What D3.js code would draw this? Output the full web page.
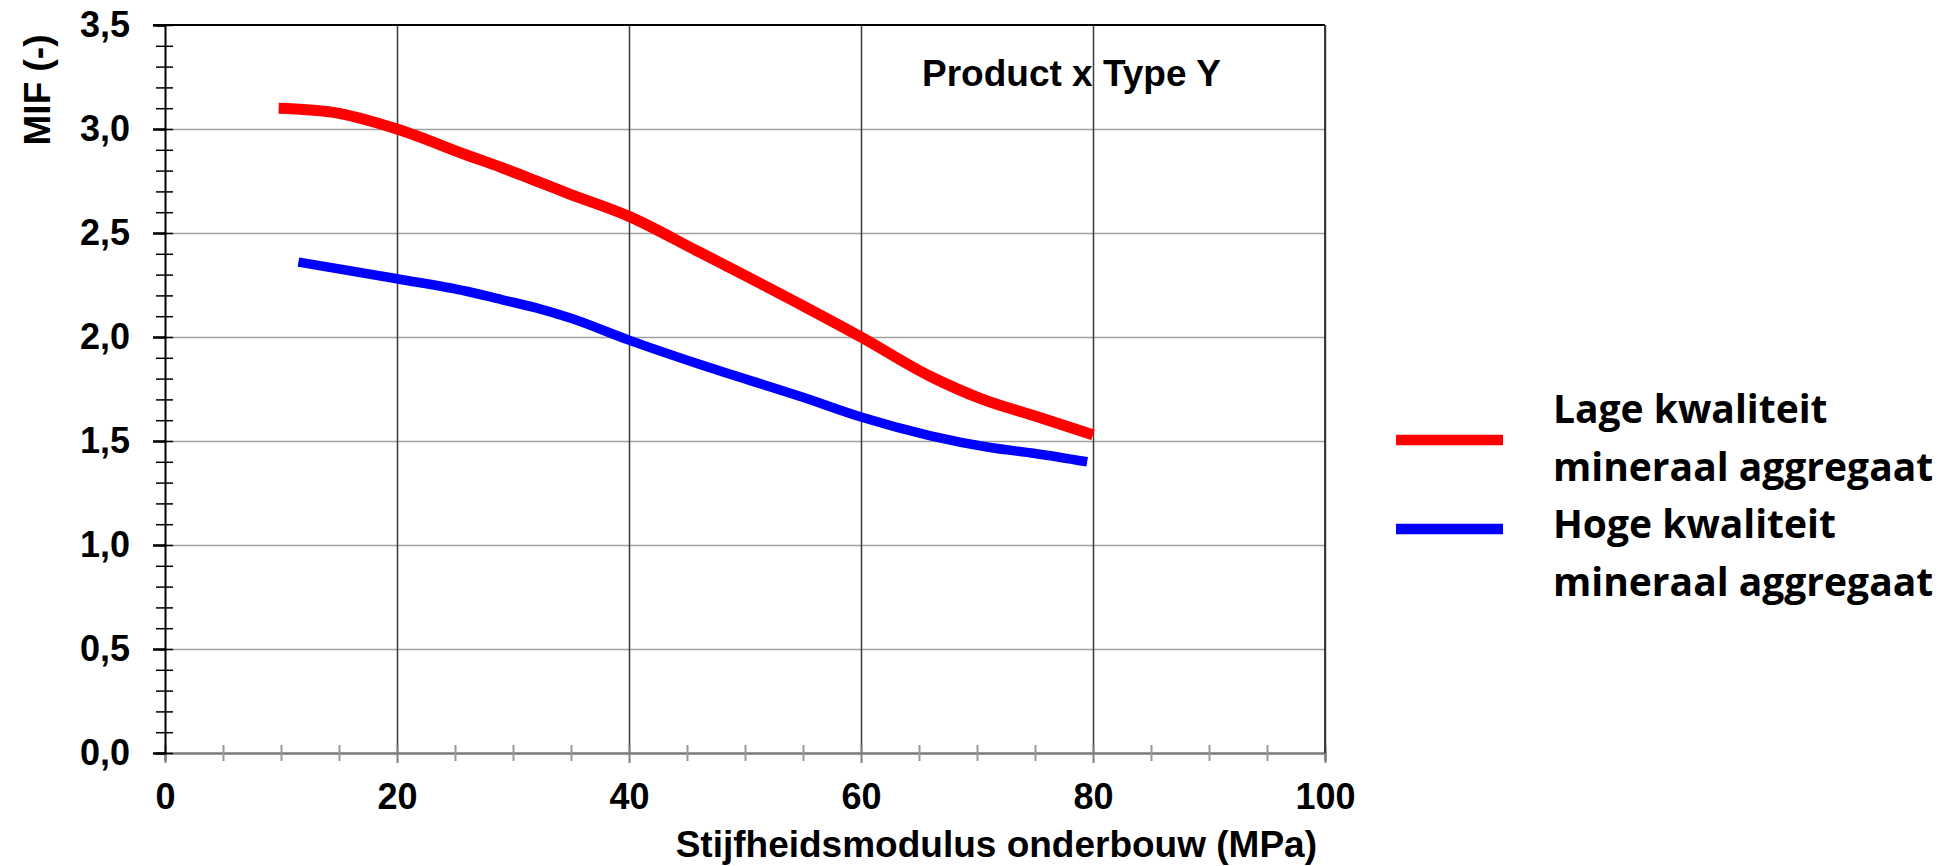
<!DOCTYPE html>
<html>
<head>
<meta charset="utf-8">
<script src="https://cdn.jsdelivr.net/npm/d3@7"></script>
<style>
  body { margin: 0; background: #fff; }
  text { font-family: Arial, "Liberation Sans", sans-serif; font-weight: bold; fill: #000; }
  .legend text { font-family: "Open Sans", Lato, sans-serif; }
</style>
</head>
<body>
<svg id="chart"></svg>
<script>
// values
const lageX = [9.8, 14.5, 20, 26, 29, 32, 35, 40, 46, 55, 60, 66, 70.5, 75, 80];
const lageY = [3.10, 3.08, 3.00, 2.875, 2.815, 2.75, 2.685, 2.58, 2.41, 2.15, 2.00, 1.81, 1.70, 1.62, 1.53];
const hogeX = [11.5, 20, 26, 29, 32, 35, 40, 46, 55, 60, 66, 71, 75, 79.5];
const hogeY = [2.36, 2.28, 2.22, 2.18, 2.14, 2.09, 1.985, 1.87, 1.71, 1.615, 1.525, 1.47, 1.44, 1.40];
const xTicks = [0, 20, 40, 60, 80, 100];
const yTicks = [0, 0.5, 1.0, 1.5, 2.0, 2.5, 3.0, 3.5];
const legendLabels = [
  ['Lage kwaliteit', 'mineraal aggregaat'],
  ['Hoge kwaliteit', 'mineraal aggregaat']
];
const seriesColors = ['#ff0000', '#0000ff'];

const W = 1942, H = 866;
const margin = { left: 165, top: 25 };
const innerW = 1160, innerH = 728;

const svg = d3.select('#chart').attr('width', W).attr('height', H);
const g = svg.append('g').attr('transform', `translate(${margin.left}, ${margin.top})`);

const x = d3.scaleLinear().domain([0, 100]).range([0, innerW]);
const y = d3.scaleLinear().domain([0, 3.5]).range([innerH, 0]);
const fmt = d3.formatLocale({ decimal: ',', thousands: '.', grouping: [3], currency: ['', ''] }).format('.1f');

// horizontal grid
g.append('g')
  .call(d3.axisLeft(y).tickValues(yTicks.slice(1, -1)).tickSize(-innerW).tickFormat(''))
  .call(s => s.select('.domain').remove())
  .call(s => s.selectAll('line').attr('stroke', '#a0a0a0').attr('stroke-width', 1.5));

// vertical grid
g.append('g')
  .attr('transform', `translate(0, ${innerH})`)
  .call(d3.axisBottom(x).tickValues(xTicks.slice(1)).tickSize(innerH).tickFormat(''))
  .call(s => s.select('.domain').remove())
  .call(s => s.selectAll('line').attr('y2', -innerH).attr('stroke', '#3a3a3a').attr('stroke-width', 1.5));

// top border
g.append('line').attr('x1', -12).attr('x2', innerW).attr('y1', 0).attr('y2', 0)
  .attr('stroke', '#000').attr('stroke-width', 2);

// x axis (gray, ticks every 5)
const xAxis = g.append('g')
  .attr('transform', `translate(0, ${innerH})`)
  .call(d3.axisBottom(x).tickValues(d3.range(0, 101, 5)).tickSize(8).tickPadding(22)
    .tickFormat(d => xTicks.includes(d) ? d : ''));
xAxis.select('.domain').attr('stroke', '#7a7a7a').attr('stroke-width', 2.5);
xAxis.selectAll('.tick line')
  .attr('y1', -8).attr('y2', d => xTicks.includes(d) ? 10 : 8)
  .attr('stroke', d => xTicks.includes(d) ? '#808080' : '#999').attr('stroke-width', 2);
xAxis.selectAll('.tick text').attr('font-size', 36).attr('font-family', 'Arial, "Liberation Sans", sans-serif');

// y axis (black, minor ticks every 0.1)
const yMinor = g.append('g')
  .call(d3.axisLeft(y).tickValues(d3.range(0, 36).map(d => d / 10)).tickSize(9).tickFormat(''));
yMinor.select('.domain').attr('stroke', '#000').attr('stroke-width', 2);
yMinor.selectAll('.tick line').attr('x1', 8).attr('stroke', '#000').attr('stroke-width', 1.5);

const yAxis = g.append('g')
  .call(d3.axisLeft(y).tickValues(yTicks).tickSize(12).tickPadding(23).tickFormat(fmt));
yAxis.select('.domain').remove();
yAxis.selectAll('.tick line').attr('stroke', '#000').attr('stroke-width', 2.5);
yAxis.selectAll('.tick text').attr('font-size', 36).attr('font-family', 'Arial, "Liberation Sans", sans-serif');

// right border
g.append('line').attr('x1', innerW).attr('x2', innerW).attr('y1', 0).attr('y2', innerH)
  .attr('stroke', '#3a3a3a').attr('stroke-width', 2);

// series
const line = d3.line().x(d => x(d[0])).y(d => y(d[1])).curve(d3.curveMonotoneX);
const series = [d3.zip(lageX, lageY), d3.zip(hogeX, hogeY)];
g.selectAll('path.series')
  .data(series)
  .join('path')
  .attr('class', 'series')
  .attr('fill', 'none')
  .attr('stroke', (d, i) => seriesColors[i])
  .attr('stroke-width', (d, i) => i === 0 ? 11 : 9.5)
  .attr('d', line);

// titles
g.append('text')
  .attr('x', x(100) - 8).attr('y', innerH + 104)
  .attr('text-anchor', 'end').attr('font-size', 37)
  .text('Stijfheidsmodulus onderbouw (MPa)');

svg.append('text')
  .attr('transform', 'translate(50, 90) rotate(-90)')
  .attr('text-anchor', 'middle').attr('font-size', 37)
  .text('MIF (-)');

svg.append('text')
  .attr('x', 922).attr('y', 86).attr('font-size', 37)
  .text('Product x Type Y');

// legend
const legend = svg.append('g').attr('class', 'legend');
legendLabels.forEach((lines, i) => {
  const top = 423 + i * 115;
  const lineY = 440 + i * 89;
  legend.append('line')
    .attr('x1', 1396).attr('x2', 1503)
    .attr('y1', lineY).attr('y2', lineY)
    .attr('stroke', seriesColors[i]).attr('stroke-width', 10.5);
  lines.forEach((t, j) => {
    legend.append('text')
      .attr('x', 1553).attr('y', top + j * 57.5)
      .attr('font-size', 39)
      .text(t);
  });
});
</script>
</body>
</html>
